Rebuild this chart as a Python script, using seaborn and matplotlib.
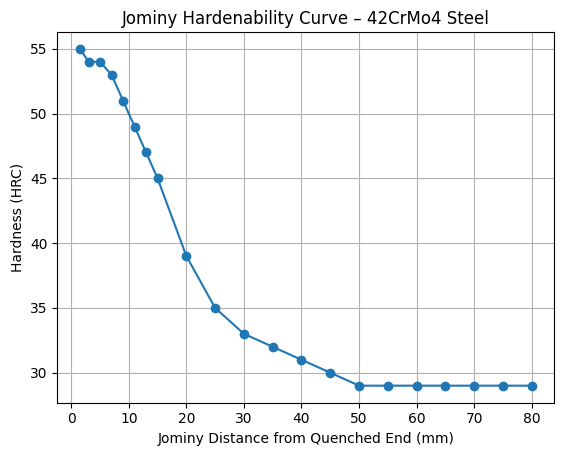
import matplotlib
matplotlib.use("Agg")
import matplotlib.pyplot as plt
import pandas as pd
import seaborn as sns

distance_mm = [1.5, 3, 5, 7, 9, 11, 13, 15, 20, 25, 30, 35, 40, 45, 50, 55, 60, 65, 70, 75, 80]
hardness_hrc = [55, 54, 54, 53, 51, 49, 47, 45, 39, 35, 33, 32, 31, 30, 29, 29, 29, 29, 29, 29, 29]

df = pd.DataFrame({"distance": distance_mm, "hardness": hardness_hrc})

fig, ax = plt.subplots(figsize=(5.62, 4.55), dpi=100)
fig.subplots_adjust(left=57.3 / 562, right=554.3 / 562, top=1 - 32 / 455, bottom=1 - 402.5 / 455)

sns.lineplot(
    data=df,
    x="distance",
    y="hardness",
    marker="o",
    markersize=6,
    markeredgecolor="#1f77b4",
    markeredgewidth=1,
    color="#1f77b4",
    ax=ax,
)
ax.set_title("Jominy Hardenability Curve – 42CrMo4 Steel")
ax.set_xlabel("Jominy Distance from Quenched End (mm)")
ax.set_ylabel("Hardness (HRC)")
ax.grid(True)

fig.savefig("out.png", dpi=100)
